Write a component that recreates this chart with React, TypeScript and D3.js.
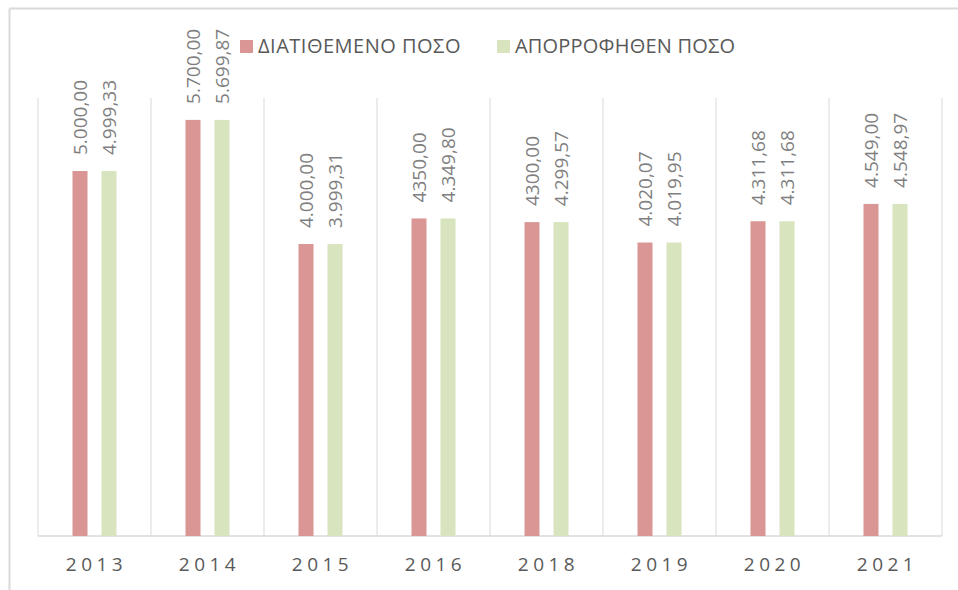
import React from "react";
import * as d3 from "d3";

const years = ["2013", "2014", "2015", "2016", "2018", "2019", "2020", "2021"];
const allocated = [5000.0, 5700.0, 4000.0, 4350.0, 4300.0, 4020.07, 4311.68, 4549.0];
const absorbed = [4999.33, 5699.87, 3999.31, 4349.8, 4299.57, 4019.95, 4311.68, 4548.97];
const allocatedLabels = ["5.000,00", "5.700,00", "4.000,00", "4350,00", "4300,00", "4.020,07", "4.311,68", "4.549,00"];
const absorbedLabels = ["4.999,33", "5.699,87", "3.999,31", "4.349,80", "4.299,57", "4.019,95", "4.311,68", "4.548,97"];
const seriesNames = ["ΔΙΑΤΙΘΕΜΕΝΟ ΠΟΣΟ", "ΑΠΟΡΡΟΦΗΘΕΝ ΠΟΣΟ"];
const colors = ["#d99694", "#d7e4bd"];

const W = 958;
const H = 590;
const plot = { left: 38, right: 942, top: 98, bottom: 536 };
const FONT = "'Open Sans', 'Liberation Sans', sans-serif";

export default function App() {
  const x = d3.scaleBand<string>().domain(years).range([plot.left, plot.right]).paddingInner(0).paddingOuter(0);
  const y = d3.scaleLinear().domain([0, 6000]).range([plot.bottom, plot.top]);
  const barW = 15;
  const offset = 14.5;
  const series = [
    { values: allocated, labels: allocatedLabels, dx: -offset, color: colors[0] },
    { values: absorbed, labels: absorbedLabels, dx: offset, color: colors[1] },
  ];
  const boundaries = years.map((yr) => x(yr) as number).concat([plot.right]);

  return (
    <svg width={W} height={H} style={{ position: "absolute", left: 0, top: 0, background: "#fff" }} fontFamily={FONT}>
      {/* outer frame */}
      <line x1={9.5} x2={W} y1={8.5} y2={8.5} stroke="#d9d9d9" strokeWidth={2} />
      <line x1={9.5} x2={9.5} y1={8.5} y2={H} stroke="#d9d9d9" strokeWidth={2} />

      {/* vertical gridlines */}
      {boundaries.map((bx, i) => (
        <line key={i} x1={bx} x2={bx} y1={plot.top} y2={plot.bottom} stroke="#d9d9d9" strokeWidth={1} />
      ))}
      {/* baseline */}
      <line x1={plot.left} x2={plot.right} y1={plot.bottom} y2={plot.bottom} stroke="#d9d9d9" strokeWidth={1.5} />

      {/* bars */}
      {series.map((s, si) =>
        years.map((yr, i) => {
          const cx = (x(yr) as number) + x.bandwidth() / 2 + s.dx;
          return (
            <rect key={`${si}-${i}`} x={cx - barW / 2} y={y(s.values[i])} width={barW} height={plot.bottom - y(s.values[i])} fill={s.color} />
          );
        })
      )}

      {/* data labels */}
      {series.map((s, si) =>
        years.map((yr, i) => {
          const cx = (x(yr) as number) + x.bandwidth() / 2 + s.dx;
          const ty = y(s.values[i]) - 16;
          return (
            <text
              key={`l${si}-${i}`}
              transform={`translate(${cx},${ty}) rotate(-90)`}
              textAnchor="start"
              dominantBaseline="central"
              fontSize={19}
              fill="#7f7f7f"
            >
              {s.labels[i]}
            </text>
          );
        })
      )}

      {/* x axis labels */}
      {years.map((yr) => (
        <text
          key={`x${yr}`}
          x={(x(yr) as number) + x.bandwidth() / 2 + 2}
          y={571}
          textAnchor="middle"
          fontSize={19}
          letterSpacing={4.5}
          fill="#595959"
        >
          {yr}
        </text>
      ))}

      {/* legend */}
      <g>
        <rect x={240} y={40} width={13} height={13} fill={colors[0]} />
        <text x={258} y={53} fontSize={20} letterSpacing={0.5} fill="#595959">{seriesNames[0]}</text>
        <rect x={497} y={40} width={13} height={13} fill={colors[1]} />
        <text x={515} y={53} fontSize={20} letterSpacing={0.2} fill="#595959">{seriesNames[1]}</text>
      </g>
    </svg>
  );
}
